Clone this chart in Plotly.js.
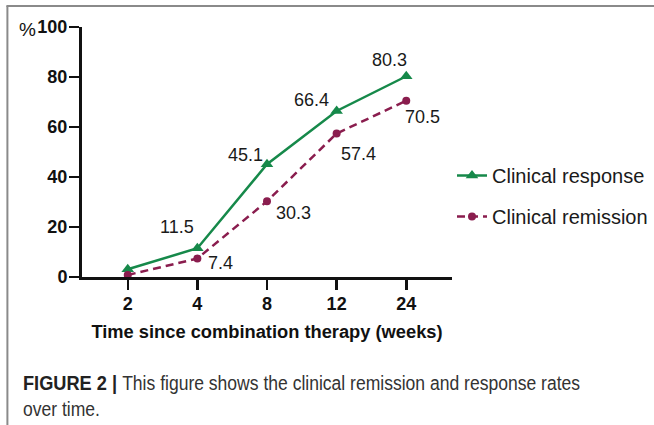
<!DOCTYPE html>
<html>
<head>
<meta charset="utf-8">
<script src="https://cdn.plot.ly/plotly-3.0.1.min.js"></script>
<style>
html,body{margin:0;padding:0;background:#fff;}
#chart{width:654px;height:425px;}
</style>
</head>
<body>
<div id="chart"></div>
<script>
// ---- data ----
var weeks = ['2', '4', '8', '12', '24'];
var response = [3.1, 11.5, 45.1, 66.4, 80.3];
var remission = [0.8, 7.4, 30.3, 57.4, 70.5];
var responseName = 'Clinical response';
var remissionName = 'Clinical remission';
var yTicks = [0, 20, 40, 60, 80, 100];
var xTitle = 'Time since combination therapy (weeks)';
var captionLead = '<b>FIGURE 2 |</b>';
var captionLine1 = 'This figure shows the clinical remission and response rates';
var captionLine2 = 'over time.';

var green = '#16894a';
var maroon = '#8a1d4e';
var baseFont = 'Liberation Sans, Arial, sans-serif';

var traces = [
  {
    x: weeks, y: response, name: responseName, type: 'scatter', mode: 'lines+markers',
    line: {color: green, width: 2.5},
    marker: {symbol: 'triangle-up', size: 11, color: green},
    legendgroup: 'a', cliponaxis: false
  },
  {
    x: weeks, y: remission, name: remissionName, type: 'scatter', mode: 'lines+markers',
    line: {color: maroon, width: 2.5, dash: '8px,5px'},
    marker: {symbol: 'circle', size: 8, color: maroon},
    legendgroup: 'b', cliponaxis: false
  }
];

// label offsets (px) for each point; index 0 unlabeled
var respShift = [null, [-20, 21], [-22, 9], [-25, 11], [-17, 16]];
var remShift = [null, [23, -4], [26, -12], [22, -20], [16, -16]];

var labelFont = {family: baseFont, size: 18, color: '#1a1a1a'};
var annotations = [];
for (var i = 0; i < weeks.length; i++) {
  if (respShift[i]) {
    annotations.push({x: i, y: response[i], xref: 'x', yref: 'y', text: String(response[i]),
      showarrow: false, xanchor: 'center', yanchor: 'middle',
      xshift: respShift[i][0], yshift: respShift[i][1], font: labelFont});
  }
  if (remShift[i]) {
    annotations.push({x: i, y: remission[i], xref: 'x', yref: 'y', text: String(remission[i]),
      showarrow: false, xanchor: 'center', yanchor: 'middle',
      xshift: remShift[i][0], yshift: remShift[i][1], font: labelFont});
  }
}

var L = 82, T = 27, W = 372, H = 250;
function px2x(p) { return (p - L) / W; }
function py2y(p) { return (T + H - p) / H; }

var capFont = {family: baseFont, size: 20, color: '#333'};
var capLeadFont = {family: baseFont, size: 20, color: '#222'};
// "%" unit label
annotations.push({x: px2x(27), y: py2y(29), xref: 'paper', yref: 'paper', text: '%', showarrow: false,
  xanchor: 'center', yanchor: 'middle', font: {family: baseFont, size: 19, color: '#111'}});
// caption
annotations.push({x: px2x(22), y: py2y(383), text: captionLead, showarrow: false, xref: 'paper', yref: 'paper',
  xanchor: 'left', yanchor: 'middle', font: capLeadFont, borderpad: 0});
annotations.push({x: px2x(121), y: py2y(383), text: captionLine1, showarrow: false, xref: 'paper', yref: 'paper',
  xanchor: 'left', yanchor: 'middle', font: capFont, borderpad: 0});
annotations.push({x: px2x(22), y: py2y(409), text: captionLine2, showarrow: false, xref: 'paper', yref: 'paper',
  xanchor: 'left', yanchor: 'middle', font: capFont, borderpad: 0});

var tickFont = {family: baseFont, size: 18, weight: 'bold', color: '#111'};
var titleFont = {family: baseFont, size: 18.3, weight: 'bold', color: '#111'};

var layout = {
  width: 654, height: 425,
  margin: {l: L, r: 654 - L - W, t: T, b: 425 - T - H, pad: 0},
  paper_bgcolor: '#fff', plot_bgcolor: '#fff',
  font: {family: baseFont, color: '#111'},
  showlegend: true,
  legend: {
    xref: 'container', yref: 'container',
    x: 452 / 654, y: 1 - 156 / 425, xanchor: 'left', yanchor: 'top',
    font: {family: baseFont, size: 20, color: '#1a1a1a'},
    tracegroupgap: 12, traceorder: 'grouped', bgcolor: 'rgba(0,0,0,0)'
  },
  xaxis: {
    type: 'category', range: [-0.657, 4.657], showgrid: false, zeroline: false,
    showline: true, linecolor: '#111', linewidth: 3,
    ticks: 'outside', ticklen: 10, tickwidth: 2.5, tickcolor: '#111',
    ticklabelstandoff: -2,
    tickfont: tickFont,
    title: {text: xTitle, standoff: 13, font: titleFont},
    fixedrange: true
  },
  yaxis: {
    range: [0, 100], tickvals: yTicks, showgrid: false, zeroline: false,
    showline: true, linecolor: '#111', linewidth: 3,
    ticks: 'outside', ticklen: 10, tickwidth: 2.5, tickcolor: '#111',
    ticklabelstandoff: -2,
    tickfont: tickFont,
    fixedrange: true
  },
  annotations: annotations,
  shapes: [
    {type: 'line', xref: 'paper', yref: 'paper', x0: px2x(7), x1: px2x(7), y0: py2y(6), y1: py2y(430),
      line: {color: '#8a8a8a', width: 2}},
    {type: 'line', xref: 'paper', yref: 'paper', x0: px2x(6), x1: px2x(660), y0: py2y(6), y1: py2y(6),
      line: {color: '#8a8a8a', width: 2}}
  ]
};

Plotly.newPlot('chart', traces, layout, {staticPlot: true, displayModeBar: false}).then(function (gd) {
  // condense the caption text horizontally (the original uses a condensed face)
  var texts = gd.querySelectorAll('.annotation-text');
  texts.forEach(function (t) {
    var s = t.textContent;
    var sc = null;
    if (s.indexOf('FIGURE') === 0) sc = 0.91;
    else if (s === captionLine1 || s === captionLine2) sc = 0.877;
    if (sc) {
      var x0 = t.getBBox().x;
      t.setAttribute('transform', 'translate(' + x0 + ',0) scale(' + sc + ',1) translate(' + (-x0) + ',0)');
    }
  });
});
</script>
</body>
</html>
